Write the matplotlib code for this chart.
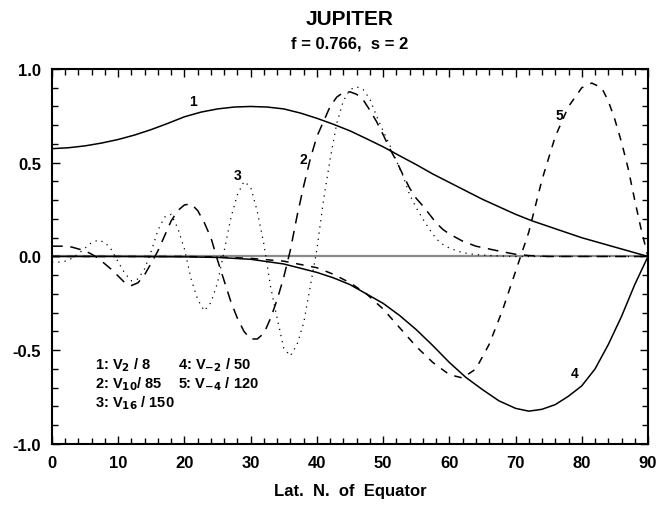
import numpy as np
import matplotlib
matplotlib.use("Agg")
import matplotlib.pyplot as plt
from matplotlib.ticker import MultipleLocator

plt.rcParams['font.family'] = ['Liberation Sans', 'DejaVu Sans']
plt.rcParams['font.weight'] = 'bold'

# curve 1: V2 / 8 (solid)
lat1 = [0, 2.5, 5, 7.5, 10, 12.5, 15, 17.5, 20, 22.5, 25, 27.5, 30, 32.5, 35, 37.5,
        40, 42.5, 45, 47.5, 50, 52.5, 55, 57.5, 60, 62.5, 65, 67.5, 70, 72.5, 75,
        77.5, 80, 82.5, 85, 87.5, 90]
v1 = [0.575, 0.580, 0.590, 0.605, 0.624, 0.648, 0.677, 0.71, 0.745, 0.770, 0.787,
      0.797, 0.80, 0.797, 0.787, 0.765, 0.737, 0.705, 0.67, 0.628, 0.585, 0.537, 0.49,
      0.44, 0.395, 0.35, 0.305, 0.265, 0.225, 0.19, 0.16, 0.13, 0.10, 0.075, 0.05,
      0.025, 0.0]

# curve 2: V10 / 85 (long dashes)
lat2 = [0, 1, 2, 3, 4, 5, 6, 7, 8, 9, 10, 11, 12, 13, 14, 15, 16, 17, 18, 19, 20,
        21, 22, 23, 24, 25, 26, 27, 28, 29, 30, 31, 32, 33, 34, 35, 36, 37, 38, 39,
        40, 41, 42, 43, 44, 45, 46, 47, 48, 49, 50, 51, 52, 53, 54, 55, 56, 57, 58,
        59, 60, 62, 64, 66, 68, 70, 72, 75, 90]
v2 = [0.055, 0.055, 0.055, 0.05, 0.04, 0.03, 0.012, -0.01, -0.04, -0.07, -0.105,
      -0.14, -0.155, -0.14, -0.096, -0.035, 0.03, 0.11, 0.19, 0.245, 0.275, 0.28,
      0.245, 0.18, 0.10, -0.02, -0.13, -0.24, -0.33, -0.40, -0.44, -0.44, -0.41,
      -0.33, -0.23, -0.11, 0.035, 0.215, 0.375, 0.52, 0.64, 0.72, 0.80, 0.85, 0.875,
      0.878, 0.865, 0.835, 0.78, 0.72, 0.65, 0.575, 0.51, 0.435, 0.365, 0.31, 0.27,
      0.225, 0.18, 0.145, 0.12, 0.082, 0.055, 0.04, 0.025, 0.012, 0.005, 0.0, 0.0]

# curve 3: V16 / 150 (dotted)
lat3 = [0, 1, 2, 3, 4, 5, 6, 7, 8, 9, 10, 11, 12, 13, 14, 15, 16, 17, 18, 19, 20,
        21, 22, 23, 24, 25, 26, 27, 28, 29, 30, 31, 32, 33, 34, 35, 36, 37, 38, 39,
        40, 41, 42, 43, 44, 45, 46, 47, 48, 49, 50, 51, 52, 53, 54, 55, 56, 57, 58,
        59, 60, 62, 64, 66, 70, 90]
v3 = [-0.03, -0.03, -0.025, -0.01, 0.015, 0.045, 0.075, 0.087, 0.075, 0.035, -0.03,
      -0.09, -0.13, -0.12, -0.065, 0.03, 0.14, 0.21, 0.225, 0.15, 0.04, -0.12, -0.23,
      -0.29, -0.245, -0.14, 0.03, 0.205, 0.33, 0.40, 0.37, 0.24, 0.065, -0.16, -0.33,
      -0.49, -0.53, -0.47, -0.355, -0.16, 0.037, 0.30, 0.52, 0.71, 0.83, 0.89, 0.905,
      0.89, 0.84, 0.75, 0.67, 0.595, 0.51, 0.43, 0.33, 0.26, 0.20, 0.145, 0.095,
      0.065, 0.045, 0.02, 0.01, 0.005, 0.0, 0.0]

# curve 4: V-2 / 50 (solid)
lat4 = [0, 10, 20, 25, 30, 35, 40, 42.5, 45, 47.5, 50, 52.5, 55, 57.5, 60, 62.5, 65,
        67.5, 70, 72, 74, 76, 78, 80, 82, 84, 86, 88, 90]
v4 = [0.0, 0.0, -0.002, -0.005, -0.015, -0.04, -0.085, -0.114, -0.15, -0.2, -0.25,
      -0.315, -0.39, -0.475, -0.565, -0.645, -0.71, -0.77, -0.81, -0.825, -0.815,
      -0.79, -0.745, -0.69, -0.6, -0.47, -0.32, -0.15, 0.0]

# curve 5: V-4 / 120 (short dashes)
lat5 = [0, 10, 20, 25, 30, 35, 40, 42.5, 45, 47.5, 50, 52.5, 55, 57.5, 60, 62, 64,
        66, 68, 70, 72, 74, 76, 78, 80, 81.5, 83, 84, 85, 86, 87, 88, 89, 90]
v5 = [0.0, 0.0, 0.0, -0.003, -0.01, -0.025, -0.06, -0.095, -0.14, -0.2, -0.28,
      -0.38, -0.48, -0.565, -0.63, -0.648, -0.6, -0.47, -0.29, -0.08, 0.13, 0.41,
      0.64, 0.80, 0.90, 0.925, 0.90, 0.83, 0.73, 0.61, 0.47, 0.30, 0.14, 0.0]

legend_left = ["1: V$_2$ / 8", "2: V$_{10}$/ 85", "3: V$_{16}$ / 150"]
legend_right = ["4: V$_{-2}$ / 50", "5: V$_{-4}$ / 120"]

fig = plt.figure(figsize=(6.6, 5.06), dpi=100)
ax = fig.add_axes([0.0788, 0.1206, 0.9030, 0.7411])

ax.axhline(0, color='#8a8a8a', lw=1.6, zorder=1)
ax.plot(lat1, v1, color='black', lw=1.1)
ax.plot(lat2, v2, color='black', lw=1.1, linestyle=(0, (7, 5)))
ax.plot(lat3, v3, color='black', lw=0.9, linestyle=(0, (1, 4)))
ax.plot(lat4, v4, color='black', lw=1.1)
ax.plot(lat5, v5, color='black', lw=1.1, linestyle=(0, (5, 5)))

# curve numbers
ax.text(21.3, 0.79, "1", fontsize=10, ha='center', va='bottom')
ax.text(37.9, 0.52, "2", fontsize=10, ha='center', va='center')
ax.text(28.0, 0.434, "3", fontsize=10, ha='center', va='center')
ax.text(78.9, -0.62, "4", fontsize=10, ha='center', va='center')
ax.text(76.6, 0.757, "5", fontsize=10, ha='center', va='center')

for i, s in enumerate(legend_left):
    ax.text(6.5, -0.576 - 0.1 * i, s, fontsize=10.5, va='center')
for i, s in enumerate(legend_right):
    ax.text(19.0, -0.576 - 0.1 * i, s, fontsize=10.5, va='center')

ax.set_xlim(0, 90)
ax.set_ylim(-1.0, 1.0)
ax.xaxis.set_major_locator(MultipleLocator(10))
ax.xaxis.set_minor_locator(MultipleLocator(2))
ax.yaxis.set_major_locator(MultipleLocator(0.5))
ax.yaxis.set_minor_locator(MultipleLocator(0.1))
ax.tick_params(which='both', direction='in', top=True, right=True, width=1.0,
               labelsize=12, pad=8)
ax.tick_params(which='major', length=6)
ax.tick_params(which='minor', length=4)
ax.set_yticklabels([f"{t:.1f}" for t in ax.get_yticks()])
for sp in ax.spines.values():
    sp.set_linewidth(1.5)

ax.set_xlabel("Lat.  N.  of  Equator", fontsize=12, fontweight='bold', labelpad=9)
fig.text(0.530, 0.962, "JUPITER", fontsize=15, ha='center', va='center')
fig.text(0.530, 0.913, "f = 0.766,  s = 2", fontsize=12, ha='center', va='center')

fig.savefig("out.png", dpi=100)
